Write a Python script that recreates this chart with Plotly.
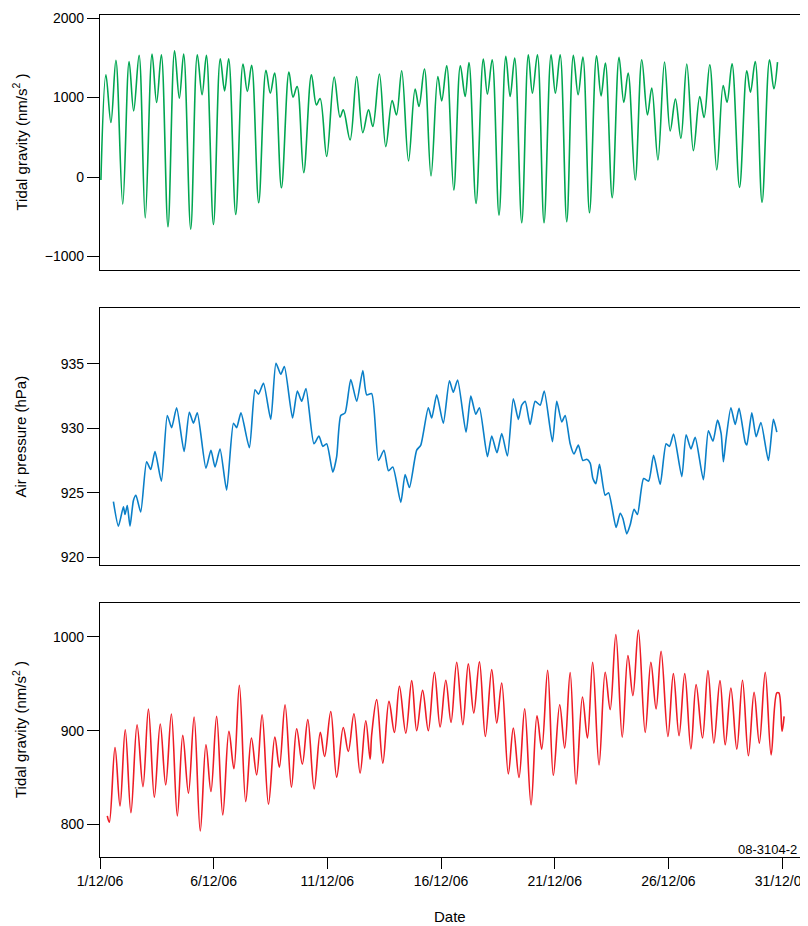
import pandas as pd
import plotly.graph_objects as go

# ---------------- data ----------------
# time offsets in days after 1/12/06 00:00
grav_t = [0.04, 0.26, 0.48, 0.70, 1.00, 1.28, 1.48, 1.72, 1.99, 2.29, 2.49, 2.70, 2.99, 3.28, 3.49, 3.68,
          3.99, 4.28, 4.49, 4.68, 4.99, 5.29, 5.48, 5.66, 5.97, 6.29, 6.48, 6.67, 6.98, 7.30, 7.49, 7.68,
          7.98, 8.31, 8.49, 8.67, 8.96, 9.30, 9.52, 9.68, 9.97, 10.30, 10.56, 10.70, 11.00, 11.29, 11.56,
          11.81, 12.00, 12.29, 12.57, 12.85, 13.04, 13.27, 13.57, 13.86, 14.03, 14.27, 14.56, 14.86, 15.03,
          15.25, 15.56, 15.85, 16.06, 16.23, 16.54, 16.86, 17.04, 17.25, 17.55, 17.85, 18.04, 18.24, 18.55,
          18.84, 19.02, 19.24, 19.53, 19.84, 20.03, 20.24, 20.53, 20.82, 21.03, 21.24, 21.53, 21.84, 22.04,
          22.23, 22.53, 22.83, 23.04, 23.23, 23.54, 23.83, 24.08, 24.27, 24.54, 24.83, 25.08, 25.31, 25.55,
          25.81, 26.10, 26.38, 26.57, 26.82, 27.13, 27.41, 27.58, 27.80, 28.13, 28.45, 28.61, 28.82, 29.12,
          29.45, 29.64, 29.80]
grav_v = [-38, 1286, 685, 1467, -340, 1454, 832, 1530, -513, 1547, 937, 1538, -626, 1589, 992, 1547,
          -656, 1538, 1034, 1530, -597, 1488, 1084, 1488, -471, 1421, 1076, 1404, -324, 1341, 1055, 1308,
          -135, 1320, 1005, 1139, 55, 1286, 908, 988, 260, 1257, 753, 845, 467, 1265, 559,
          845, 635, 1295, 383, 963, 782, 1337, 202, 1106, 887, 1358, 13, 1265, 958,
          1400, -164, 1400, 1013, 1441, -332, 1484, 1043, 1475, -479, 1517, 1013, 1497, -576,
          1538, 1055, 1538, -576, 1538, 1055, 1538, -563, 1530, 1034, 1509, -450, 1526, 1021,
          1433, -261, 1505, 937, 1308, -38, 1475, 782, 1118, 214, 1446, 580, 980, 488,
          1421, 332, 1013, 748, 1412, 88, 1151, 942, 1425, -130, 1337, 1068, 1454, -319,
          1475, 1110, 1446]

pres_t = [0.59, 0.81, 1.03, 1.10, 1.20, 1.32, 1.47, 1.58, 1.79, 2.05, 2.23, 2.42, 2.70, 2.96, 3.15, 3.37,
          3.70, 3.93, 4.11, 4.28, 4.66, 4.88, 5.06, 5.28, 5.57, 5.87, 6.01, 6.20, 6.57, 6.82, 6.97, 7.19,
          7.51, 7.74, 7.95, 8.11, 8.47, 8.68, 8.87, 9.06, 9.41, 9.63, 9.80, 9.97, 10.24, 10.41, 10.59,
          10.78, 11.03, 11.29, 11.56, 11.73, 11.95, 12.25, 12.49, 12.69, 12.88, 13.23, 13.42, 13.61, 13.93,
          14.11, 14.44, 14.59, 14.81, 15.10, 15.37, 15.54, 15.73, 16.10, 16.31, 16.53, 16.69, 17.04, 17.23,
          17.46, 17.67, 17.92, 18.18, 18.40, 18.55, 18.70, 18.92, 19.14, 19.36, 19.54, 19.90, 20.09, 20.31,
          20.46, 20.68, 20.85, 21.04, 21.24, 21.41, 21.56, 21.68, 21.81, 21.97, 22.22, 22.37, 22.70, 22.88,
          23.00, 23.17, 23.32, 23.49, 23.64, 23.91, 24.13, 24.35, 24.64, 24.90, 25.05, 25.23, 25.59, 25.78,
          25.99, 26.18, 26.54, 26.76, 26.96, 27.16, 27.32, 27.42, 27.54, 27.75, 27.94, 28.11, 28.38, 28.45,
          28.67, 28.86, 29.07, 29.40, 29.62, 29.77]
pres_v = [924.3, 922.4, 923.9, 923.3, 924.0, 922.4, 924.4, 924.8, 923.5, 927.4, 926.8, 928.2, 925.9, 931.0, 930.05, 931.6,
          928.2, 931.25, 930.4, 931.2, 926.9, 928.3, 927.0, 928.4, 925.2, 930.4, 930.05, 931.2, 928.5, 933.0, 932.65, 933.5,
          930.7, 935.06, 934.2, 934.8, 930.8, 932.9, 932.1, 933.1, 928.8, 929.4, 928.6, 928.8, 926.6, 927.8, 931.0,
          931.2, 933.8, 932.1, 934.5, 932.6, 932.7, 927.5, 928.3, 926.7, 927.0, 924.25, 926.4, 925.4, 928.3,
          928.7, 931.6, 930.8, 932.6, 930.4, 933.7, 932.8, 933.75, 929.7, 932.5, 931.1, 931.6, 927.8, 929.4,
          928.1, 929.6, 927.85, 932.3, 930.7, 931.8, 932.1, 930.3, 932.1, 931.8, 932.9, 928.96, 932.1, 930.5,
          931.0, 928.8, 928.0, 928.7, 927.5, 927.6, 927.3, 926.1, 925.7, 927.2, 924.8, 925.0, 922.3, 923.4,
          923.0, 921.8, 922.5, 923.7, 923.3, 926.1, 925.9, 927.9, 925.65, 928.8, 928.6, 929.55, 926.25, 929.5,
          928.4, 929.3, 926.0, 929.8, 929.0, 930.65, 929.6, 927.4, 929.2, 931.6, 930.3, 931.55, 928.9, 928.7,
          931.2, 929.35, 930.45, 927.5, 930.7, 929.7]

resid_t = [0.32, 0.41, 0.66, 0.88, 1.11, 1.36, 1.63, 1.89, 2.13, 2.39, 2.65, 2.89, 3.14, 3.40, 3.64, 3.89,
           4.14, 4.41, 4.66, 4.88, 5.13, 5.40, 5.67, 5.89, 6.13, 6.41, 6.66, 6.89, 7.13, 7.41, 7.69, 7.89,
           8.14, 8.42, 8.65, 8.90, 9.14, 9.42, 9.69, 9.88, 10.15, 10.41, 10.70, 10.92, 11.17, 11.44, 11.69,
           11.88, 11.95, 12.17, 12.44, 12.71, 12.95, 13.17, 13.45, 13.71, 13.93, 14.19, 14.44, 14.71, 14.96,
           15.21, 15.44, 15.69, 15.96, 16.20, 16.44, 16.69, 16.95, 17.23, 17.45, 17.67, 17.96, 18.18, 18.43,
           18.68, 18.96, 19.22, 19.43, 19.69, 19.94, 20.22, 20.44, 20.68, 20.94, 21.22, 21.44, 21.67, 21.95,
           22.22, 22.44, 22.69, 22.97, 23.22, 23.44, 23.68, 23.98, 24.23, 24.46, 24.68, 24.98, 25.22, 25.47,
           25.72, 25.99, 26.22, 26.50, 26.74, 27.00, 27.27, 27.50, 27.75, 28.01, 28.26, 28.52, 28.77, 29.00,
           29.26, 29.52, 29.77, 29.86, 30.00, 30.09]
resid_v = [809.1, 802.3, 882.1, 819.8, 901.1, 812.6, 906.4, 840.4, 923.2, 829.1, 907.2, 842.2, 917.9, 809.1, 895.0, 833.4,
           914.7, 793.0, 885.0, 835.1, 915.3, 810.2, 899.3, 859.4, 948.5, 824.4, 892.2, 852.9, 917.1, 821.6, 893.2, 861.2,
           927.8, 839.8, 902.1, 864.4, 911.8, 838.0, 898.2, 872.5, 920.6, 850.5, 903.5, 877.9, 918.2, 854.8, 910.7,
           869.7, 895.7, 933.2, 865.5, 931.3, 898.2, 947.4, 897.5, 953.5, 900.0, 943.1, 900.0, 962.4, 904.0,
           953.8, 908.9, 973.1, 906.4, 971.3, 918.9, 973.5, 893.9, 965.2, 908.2, 951.0, 854.0, 902.9, 850.1,
           923.5, 820.9, 916.0, 880.4, 964.5, 852.2, 927.8, 881.5, 962.0, 843.0, 936.0, 892.2, 973.1, 863.6,
           962.4, 922.5, 1002.7, 893.2, 980.2, 937.4, 1007.3, 898.2, 973.1, 923.2, 984.8, 893.9, 960.9, 894.7,
           960.9, 880.7, 949.2, 892.2, 964.2, 886.8, 953.5, 885.0, 945.6, 880.4, 953.8, 873.3, 941.0, 886.8,
           962.4, 874.3, 940.3, 940.3, 899.3, 915.3]

date_ticks = ["2006-12-01", "2006-12-06", "2006-12-11", "2006-12-16", "2006-12-21", "2006-12-26", "2006-12-31"]
date_labels = ["1/12/06", "6/12/06", "11/12/06", "16/12/06", "21/12/06", "26/12/06", "31/12/06"]
grav_ticks = [-1000, 0, 1000, 2000]
pres_ticks = [920, 925, 930, 935]
resid_ticks = [800, 900, 1000]

# ---------------- figure ----------------
start = pd.Timestamp("2006-12-01")


def to_dates(days):
    return start + pd.to_timedelta(days, unit="D")


FONT = "Liberation Sans, Arial, Helvetica, sans-serif"
fig = go.Figure()
fig.add_trace(go.Scatter(x=to_dates(grav_t), y=grav_v, mode="lines", xaxis="x", yaxis="y",
                         line=dict(color="#00a651", width=1.6, shape="spline", smoothing=1.0)))
fig.add_trace(go.Scatter(x=to_dates(pres_t), y=pres_v, mode="lines", xaxis="x2", yaxis="y2",
                         line=dict(color="#0a7fc8", width=1.6, shape="spline", smoothing=0.6)))
fig.add_trace(go.Scatter(x=to_dates(resid_t), y=resid_v, mode="lines", xaxis="x3", yaxis="y3",
                         line=dict(color="#ee1c25", width=1.6, shape="spline", smoothing=1.0)))

xrange = ["2006-12-01 00:00", "2006-12-31 23:10"]
axcommon = dict(showline=True, mirror=True, linecolor="black", linewidth=1.3, showgrid=False,
                zeroline=False, automargin=False)

ytick = dict(ticks="outside", ticklen=12, tickwidth=1.3, tickcolor="black",
             tickfont=dict(family=FONT, size=14, color="black"))

# the page body adds an 8px offset, so the figure is 8px smaller and shifted
fig.update_layout(
    width=800, height=918,
    margin=dict(l=92, r=4, t=7, b=69),
    paper_bgcolor="white", plot_bgcolor="white",
    showlegend=False,
    font=dict(family=FONT, size=14, color="black"),
    xaxis=dict(domain=[0, 1], anchor="y", type="date", range=xrange, showticklabels=False,
               ticks="", **axcommon),
    xaxis2=dict(domain=[0, 1], anchor="y2", type="date", range=xrange, showticklabels=False,
                ticks="", matches="x", **axcommon),
    xaxis3=dict(domain=[0, 1], anchor="y3", type="date", range=xrange, matches="x",
                tickvals=date_ticks, ticktext=date_labels, ticks="outside", ticklen=11,
                tickwidth=1.3, tickcolor="black", ticklabeloverflow="allow",
                tickfont=dict(family=FONT, size=14, color="black"), **axcommon),
    yaxis=dict(domain=[0.6971, 1], anchor="x", range=[-1170, 2038], tickvals=grav_ticks,
               **ytick, **axcommon),
    yaxis2=dict(domain=[0.3468, 0.6520], anchor="x2", range=[919.38, 939.35], tickvals=pres_ticks,
                **ytick, **axcommon),
    yaxis3=dict(domain=[0, 0.3017], anchor="x3", range=[765.3, 1036.3], tickvals=resid_ticks,
                **ytick, **axcommon),
)

ann_font = dict(family=FONT, size=15, color="black")
fig.add_annotation(text="Tidal gravity (nm/s<sup>2</sup> )", xref="paper", yref="paper",
                   x=-0.1136, y=(0.6971 + 1) / 2, textangle=-90, showarrow=False,
                   xanchor="center", yanchor="middle", font=ann_font)
fig.add_annotation(text="Air pressure (hPa)", xref="paper", yref="paper",
                   x=-0.1136, y=(0.3468 + 0.6520) / 2, textangle=-90, showarrow=False,
                   xanchor="center", yanchor="middle", font=ann_font)
fig.add_annotation(text="Tidal gravity (nm/s<sup>2</sup> )", xref="paper", yref="paper",
                   x=-0.1136, y=0.3017 / 2, textangle=-90, showarrow=False,
                   xanchor="center", yanchor="middle", font=ann_font)
fig.add_annotation(text="Date", xref="paper", yref="paper", x=0.4972, y=-0.0712,
                   showarrow=False, xanchor="center", yanchor="middle", font=ann_font)
fig.add_annotation(text="08-3104-2", xref="paper", yref="paper", x=0.993, y=0.0095,
                   showarrow=False, xanchor="right", yanchor="middle",
                   font=dict(family=FONT, size=13, color="black"))

# clip the last date label at the figure's edge (as in the reference) instead of widening the page
fig.write_html("out.html",
               post_script="var gd=document.getElementById('{plot_id}');"
                           "gd.style.overflow='hidden';"
                           "document.documentElement.style.overflow='hidden';"
                           "document.body.style.overflow='hidden';")
